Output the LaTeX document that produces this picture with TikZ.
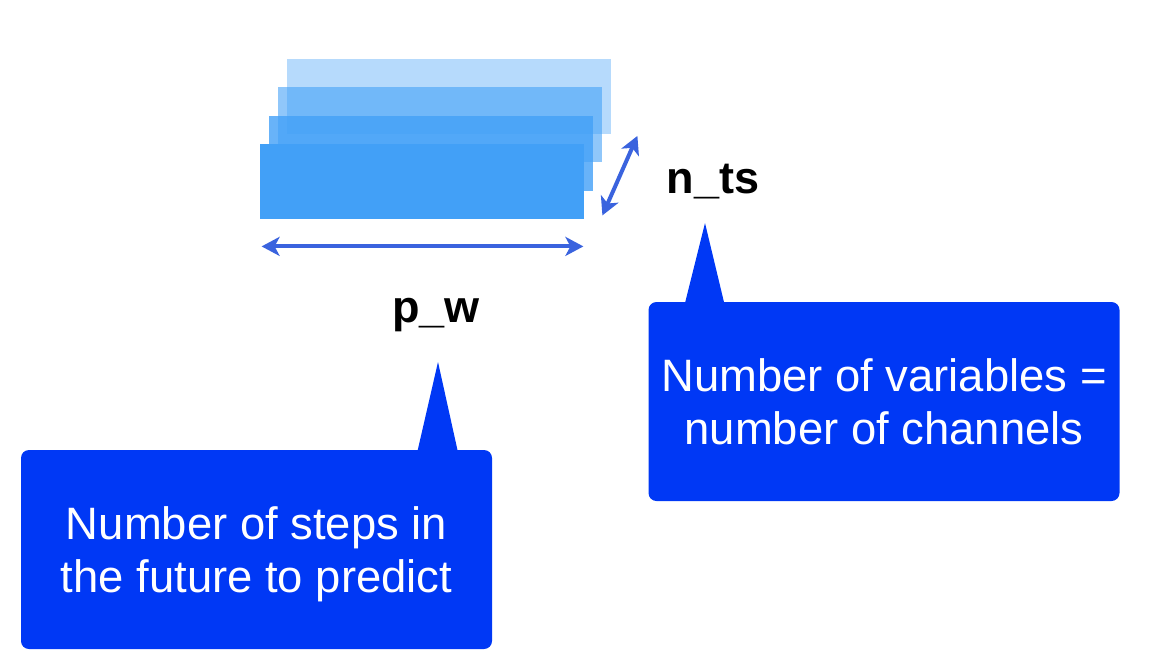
\documentclass[tikz,border=0pt]{standalone}
\usepackage{fontspec}
\setmainfont{Liberation Sans}
\usetikzlibrary{arrows.meta,calc,positioning}

\begin{document}
\begin{tikzpicture}[x=0.5pt,y=-0.5pt,
    layer/.style={fill=layerblue,inner sep=0pt,minimum width=162pt,minimum height=37.5pt},
    measure/.style={{Stealth[length=9pt,width=9.5pt,inset=2.5pt]}-{Stealth[length=9pt,width=9.5pt,inset=2.5pt]},line width=2pt,draw=arrowblue},
    callout/.style={fill=calloutblue,text=white,rounded corners=4pt,align=center,inner sep=0pt,minimum width=235.5pt,minimum height=99.5pt,font=\fontsize{22.7pt}{26.5pt}\selectfont},
    dimlabel/.style={font=\fontsize{22.5pt}{26.5pt}\selectfont\bfseries,anchor=base,inner sep=0pt}]
		    \definecolor{layerblue}{RGB}{66,160,247}
		    \definecolor{arrowblue}{RGB}{58,99,222}
		    \definecolor{calloutblue}{RGB}{0,56,245}
		    \useasboundingbox (0,0) rectangle (1150,670);
		    % stacked channels, back to front
		    \foreach \i/\op in {3/0.39,2/0.59,1/0.8,0/1}
		      \node[layer,fill opacity=\op] (r\i) at ({422+9*\i},{181.5-28.5*\i}) {};
		    
		    \node[dimlabel] (pw) at (436,322) {p\_w};
		    \node[dimlabel] (nts) at (713,193) {n\_ts};
		    
		    \draw[measure] ($(r0.south west)+(2,27)$) -- ($(r0.south east)+(-1,27)$);
		    \draw[measure] ($(r0.south east)+(18,-4)$) -- ($(r3.south east)+(26,2)$);
		    
		    \node[callout,text depth=0pt] (steps) at (256.5,549.5) {Number of steps in\\the future to predict};
		    \node[callout] (vars) at (884,401.5) {Number of variables =\\number of channels};
		    
		    \coordinate (pw tip) at (438,362);
		    \coordinate (nts tip) at (705,223);
		    \fill[calloutblue] ($(steps.north west)+(397,1)$) -- (pw tip) -- ($(steps.north west)+(437,1)$) -- cycle;
		    \fill[calloutblue] ($(vars.north west)+(37,1)$) -- (nts tip) -- ($(vars.north west)+(76,1)$) -- cycle;
\end{tikzpicture}
\end{document}
